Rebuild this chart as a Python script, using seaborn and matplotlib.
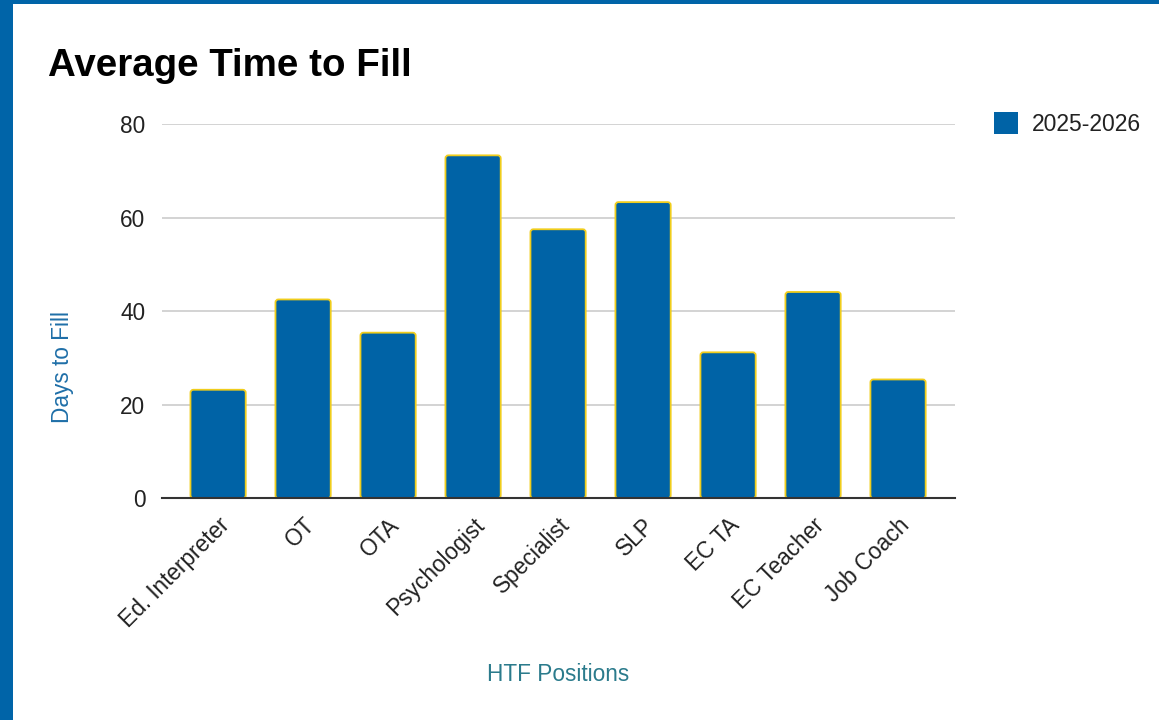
import matplotlib
matplotlib.use("Agg")
import matplotlib.pyplot as plt
import seaborn as sns
import pandas as pd
from matplotlib.patches import Rectangle, FancyBboxPatch

# ---- data ----
positions = ["Ed. Interpreter", "OT", "OTA", "Psychologist", "Specialist",
             "SLP", "EC TA", "EC Teacher", "Job Coach"]
days_to_fill = [23.2, 42.5, 35.4, 73.3, 57.5, 63.3, 31.2, 44.1, 25.4]
series_name = "2025-2026"
y_ticks = [0, 20, 40, 60, 80]

title = "Average Time to Fill"
x_label = "HTF Positions"
y_label = "Days to Fill"

BAR = "#0063a6"
EDGE = "#f0cd1c"

sns.set_theme(style="white")
plt.rcParams["font.family"] = ["Liberation Sans", "DejaVu Sans"]

df = pd.DataFrame({"Position": positions, "Days": days_to_fill,
                   "Year": [series_name] * len(positions)})

W, H = 1159, 720
fig = plt.figure(figsize=(W / 100, H / 100), dpi=100)
fig.patch.set_facecolor("white")

left, right, top, bottom = 162, 955, 124, 498.3
ax = fig.add_axes([left / W, 1 - bottom / H, (right - left) / W, (bottom - top) / H])

sns.barplot(data=df, x="Position", y="Days", hue="Year", palette=[BAR],
            dodge=False, width=0.65, edgecolor=EDGE, linewidth=1.3,
            saturation=1, ax=ax, zorder=3)

xlim = (-0.66, 8.67)
ylim = (0, 80)
ax.set_ylim(*ylim)
ax.set_xlim(*xlim)
ax.set_yticks(y_ticks)
ax.yaxis.grid(True, color="#cccccc", linewidth=1.2, zorder=0)
ax.xaxis.grid(False)
for s in ["top", "right", "left"]:
    ax.spines[s].set_visible(False)
ax.spines["bottom"].set_color("#333333")
ax.spines["bottom"].set_linewidth(1.5)
ax.spines["bottom"].set_zorder(4)
ax.tick_params(axis="both", length=0, labelsize=16.3, colors="#222222")
ax.tick_params(axis="y", pad=12)
ax.tick_params(axis="x", pad=11)
for lbl in ax.get_xticklabels():
    lbl.set_rotation(45)
    lbl.set_ha("right")
    lbl.set_rotation_mode("anchor")

ax.set_xlabel(x_label, fontsize=16.3, color="#2b7b8c")
ax.xaxis.set_label_coords(0.4994, -0.472)
ax.xaxis.label.set_va("center")
ax.set_ylabel(y_label, fontsize=16.3, color="#1f6fa8")
ax.yaxis.set_label_coords(-0.126, 0.351)
ax.yaxis.label.set_va("center")

leg = ax.legend(loc="upper left", bbox_to_anchor=(994 / W, 1 - 112 / H),
                bbox_transform=fig.transFigure, frameon=False, fontsize=16.5,
                handlelength=1.05, handleheight=1.1, handletextpad=0.62,
                borderpad=0, borderaxespad=0)
for h in leg.legend_handles:
    h.set_edgecolor("none")
for t in leg.get_texts():
    t.set_color("#222222")

# round the top corners of the bars (styling of the seaborn bars)
ax_w_px = right - left
ax_h_px = bottom - top
aspect = ((ylim[1] - ylim[0]) / ax_h_px) / ((xlim[1] - xlim[0]) / ax_w_px)
r = 3.0 * (xlim[1] - xlim[0]) / ax_w_px
bar_patches = [p for c in ax.containers for p in c.patches]
for p in bar_patches:
    x0, y0 = p.get_x(), p.get_y()
    w, h = p.get_width(), p.get_height()
    if not (w > 0 and h > 0):
        continue
    fb = FancyBboxPatch((x0, y0), w, h,
                        boxstyle=f"round,pad=0,rounding_size={r}",
                        mutation_aspect=aspect,
                        facecolor=p.get_facecolor(), edgecolor=EDGE,
                        linewidth=1.3, zorder=3)
    p.set_visible(False)
    ax.add_patch(fb)

fig.text(48 / W, 1 - 76 / H, title, fontsize=27.7, fontweight="bold",
         color="black", va="baseline", ha="left")

# frame border (left and top)
fig.patches.append(Rectangle((0, 0), 13 / W, 1, transform=fig.transFigure,
                             facecolor="#0064a8", edgecolor="none", zorder=10))
fig.patches.append(Rectangle((0, 1 - 4 / H), 1, 4 / H, transform=fig.transFigure,
                             facecolor="#0064a8", edgecolor="none", zorder=10))

fig.savefig("out.png", dpi=100, facecolor="white")
